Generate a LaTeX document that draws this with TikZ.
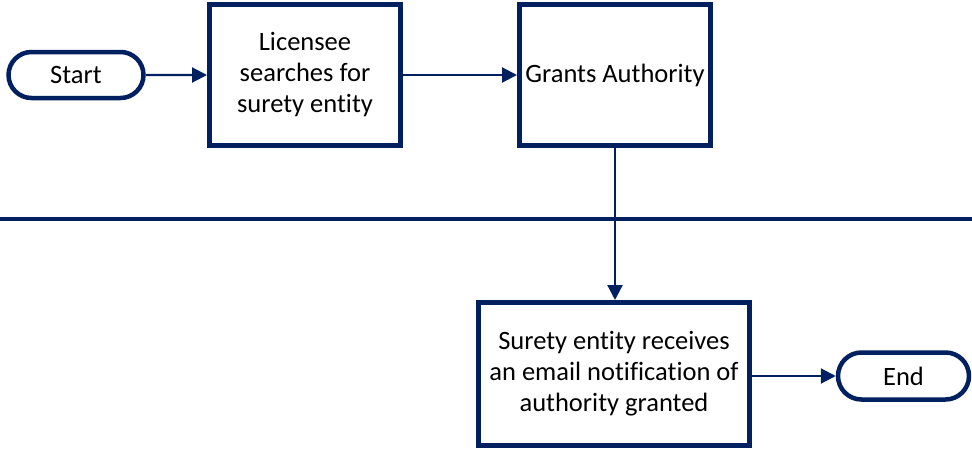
\documentclass[tikz,border=0pt]{standalone}
\usepackage{fontspec}
\setmainfont[Ligatures=NoCommon]{Carlito}
\usetikzlibrary{arrows.meta,shapes.misc}
\definecolor{navy}{HTML}{002060}
\begin{document}
\begin{tikzpicture}[x=1pt,y=-1pt,>={Triangle[length=15pt,width=15pt]},
 font=\fontsize{26.5}{31}\selectfont,
 term/.style={rounded rectangle,draw=navy,line width=4.5pt,minimum height=46pt,inner sep=0pt},
 proc/.style={draw=navy,line width=5pt,align=center,inner sep=0pt},
 arr/.style={->,draw=navy,line width=2.2pt}]
\useasboundingbox (0,0) rectangle (972,450);
% upper lane
\node[term,minimum width=135pt] (start) at (76,75) {Start};
\node[proc,minimum width=191pt,minimum height=141pt] (search) at (305,75) {Licensee\\searches for\\surety entity};
\node[proc,minimum width=191pt,minimum height=141pt] (grants) at (615,75) {Grants Authority};
% lane divider
\draw[navy,line width=4pt] (0,219) -- (972,219);
% lower lane
\node[proc,minimum width=271pt,minimum height=143pt] (notify) at (614,374) {Surety entity receives\\an email notification of\\authority granted};
\node[term,minimum width=131pt,minimum height=47pt] (end) at (903.5,376) {End};
\draw[arr] (start) -- (search);
\draw[arr] (search) -- (grants);
\draw[arr] (grants.south) -- (grants.south |- notify.north);
\draw[arr] (notify.east |- end.west) -- (end.west);
\end{tikzpicture}
\end{document}
